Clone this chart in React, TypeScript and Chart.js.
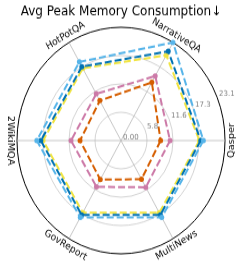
import React, { useEffect, useRef } from "react";
import { Chart, registerables } from "chart.js";

Chart.register(...registerables);

const title = "Avg Peak Memory Consumption↓";
// clockwise from the right (Chart.js goes clockwise)
const categories = ["Qasper", "MultiNews", "GovReport", "2WikiMQA", "HotPotQA", "NarrativeQA"];
const seriesLightBlue = [18.3, 18.1, 18.1, 18.7, 18.5, 23.1];
const seriesDarkBlue = [17.7, 17.5, 17.5, 17.8, 17.4, 21.0];
const seriesYellow = [17.4, 17.0, 17.0, 17.3, 17.0, 20.1];
const seriesPink = [10.9, 11.0, 10.9, 11.1, 11.0, 15.2];
const seriesOrange = [8.8, 9.1, 9.2, 9.1, 9.4, 13.7];
const tickValues = [0, 5.775, 11.55, 17.325, 23.1];
const tickLabels = ["0.00", "5.8", "11.6", "17.3", "23.1"];

const FONT = "'DejaVu Sans', sans-serif";

const labelPlugin = {
  id: "radarText",
  afterDraw(chart: any) {
    const scale = chart.scales.r;
    const ctx = chart.ctx;
    ctx.save();
    // tick labels along 22.5 degrees
    ctx.font = `7px ${FONT}`;
    ctx.fillStyle = "#808080";
    ctx.textAlign = "left";
    ctx.textBaseline = "middle";
    const a = (22.5 * Math.PI) / 180;
    tickValues.forEach((v, i) => {
      const r = scale.getDistanceFromCenterForValue(v);
      const x = scale.xCenter + r * Math.cos(a) + 2;
      const y = scale.yCenter - r * Math.sin(a) - 3;
      ctx.fillText(tickLabels[i], x, y);
    });
    // category labels, tangential
    ctx.font = `9px ${FONT}`;
    ctx.fillStyle = "#000";
    ctx.textAlign = "center";
    ctx.textBaseline = "middle";
    categories.forEach((c, i) => {
      const p = scale.getPointPosition(i, scale.drawingArea + 7);
      let theta = Math.round((-p.angle * 180) / Math.PI);
      theta = ((theta % 360) + 360) % 360;
      const rot = theta > 0 && theta < 180 ? theta - 90 : theta + 90;
      ctx.save();
      ctx.translate(p.x, p.y);
      ctx.rotate((-rot * Math.PI) / 180);
      ctx.fillText(c, 0, 0);
      ctx.restore();
    });
    ctx.restore();
  },
};

function ds(label: string, data: number[], color: string) {
  return {
    label,
    data,
    borderColor: color,
    backgroundColor: color,
    pointBackgroundColor: color,
    pointBorderWidth: 0,
    pointRadius: 2.5,
    borderWidth: 2,
    borderDash: [7, 3],
    fill: false,
  };
}

export default function App() {
  const ref = useRef<HTMLCanvasElement>(null);
  useEffect(() => {
    if (!ref.current) return;
    const chart = new Chart(ref.current, {
      type: "radar",
      data: {
        labels: categories,
        datasets: [
          ds("Series 1", seriesLightBlue, "#56B4E9"),
          ds("Series 2", seriesDarkBlue, "#0072B2"),
          ds("Series 3", seriesYellow, "#F0E442"),
          ds("Series 4", seriesPink, "#CC79A7"),
          ds("Series 5", seriesOrange, "#D55E00"),
        ],
      },
      options: {
        responsive: false,
        animation: false,
        layout: { padding: { left: 17, right: 19, top: 0, bottom: 13 } },
        plugins: {
          legend: { display: false },
          tooltip: { enabled: false },
          title: {
            display: true,
            text: title,
            color: "#000",
            font: { family: FONT, size: 12, weight: "normal" },
            padding: { top: 3.8, bottom: 6.8 },
          },
        },
        scales: {
          r: {
            min: 0,
            max: 23.1,
            startAngle: 90,
            ticks: { display: false },
            afterBuildTicks: (s: any) => {
              s.ticks = tickValues.map((v) => ({ value: v }));
            },
            grid: {
              circular: true,
              color: (c: any) => (c.index === 4 ? "#000" : "#c8c8c8"),
              lineWidth: (c: any) => (c.index === 4 ? 1 : 0.8),
            },
            angleLines: { color: "#b8b8b8", lineWidth: 0.8 },
            pointLabels: { display: false },
          },
        },
      } as any,
      plugins: [labelPlugin],
    });
    return () => chart.destroy();
  }, []);
  return (
    <div
      style={{
        position: "absolute",
        left: 0,
        top: 0,
        width: 244,
        height: 246,
        transform: "scaleY(1.0894)",
        transformOrigin: "0 0",
      }}
    >
      <canvas ref={ref} width={244} height={246} />
    </div>
  );
}
